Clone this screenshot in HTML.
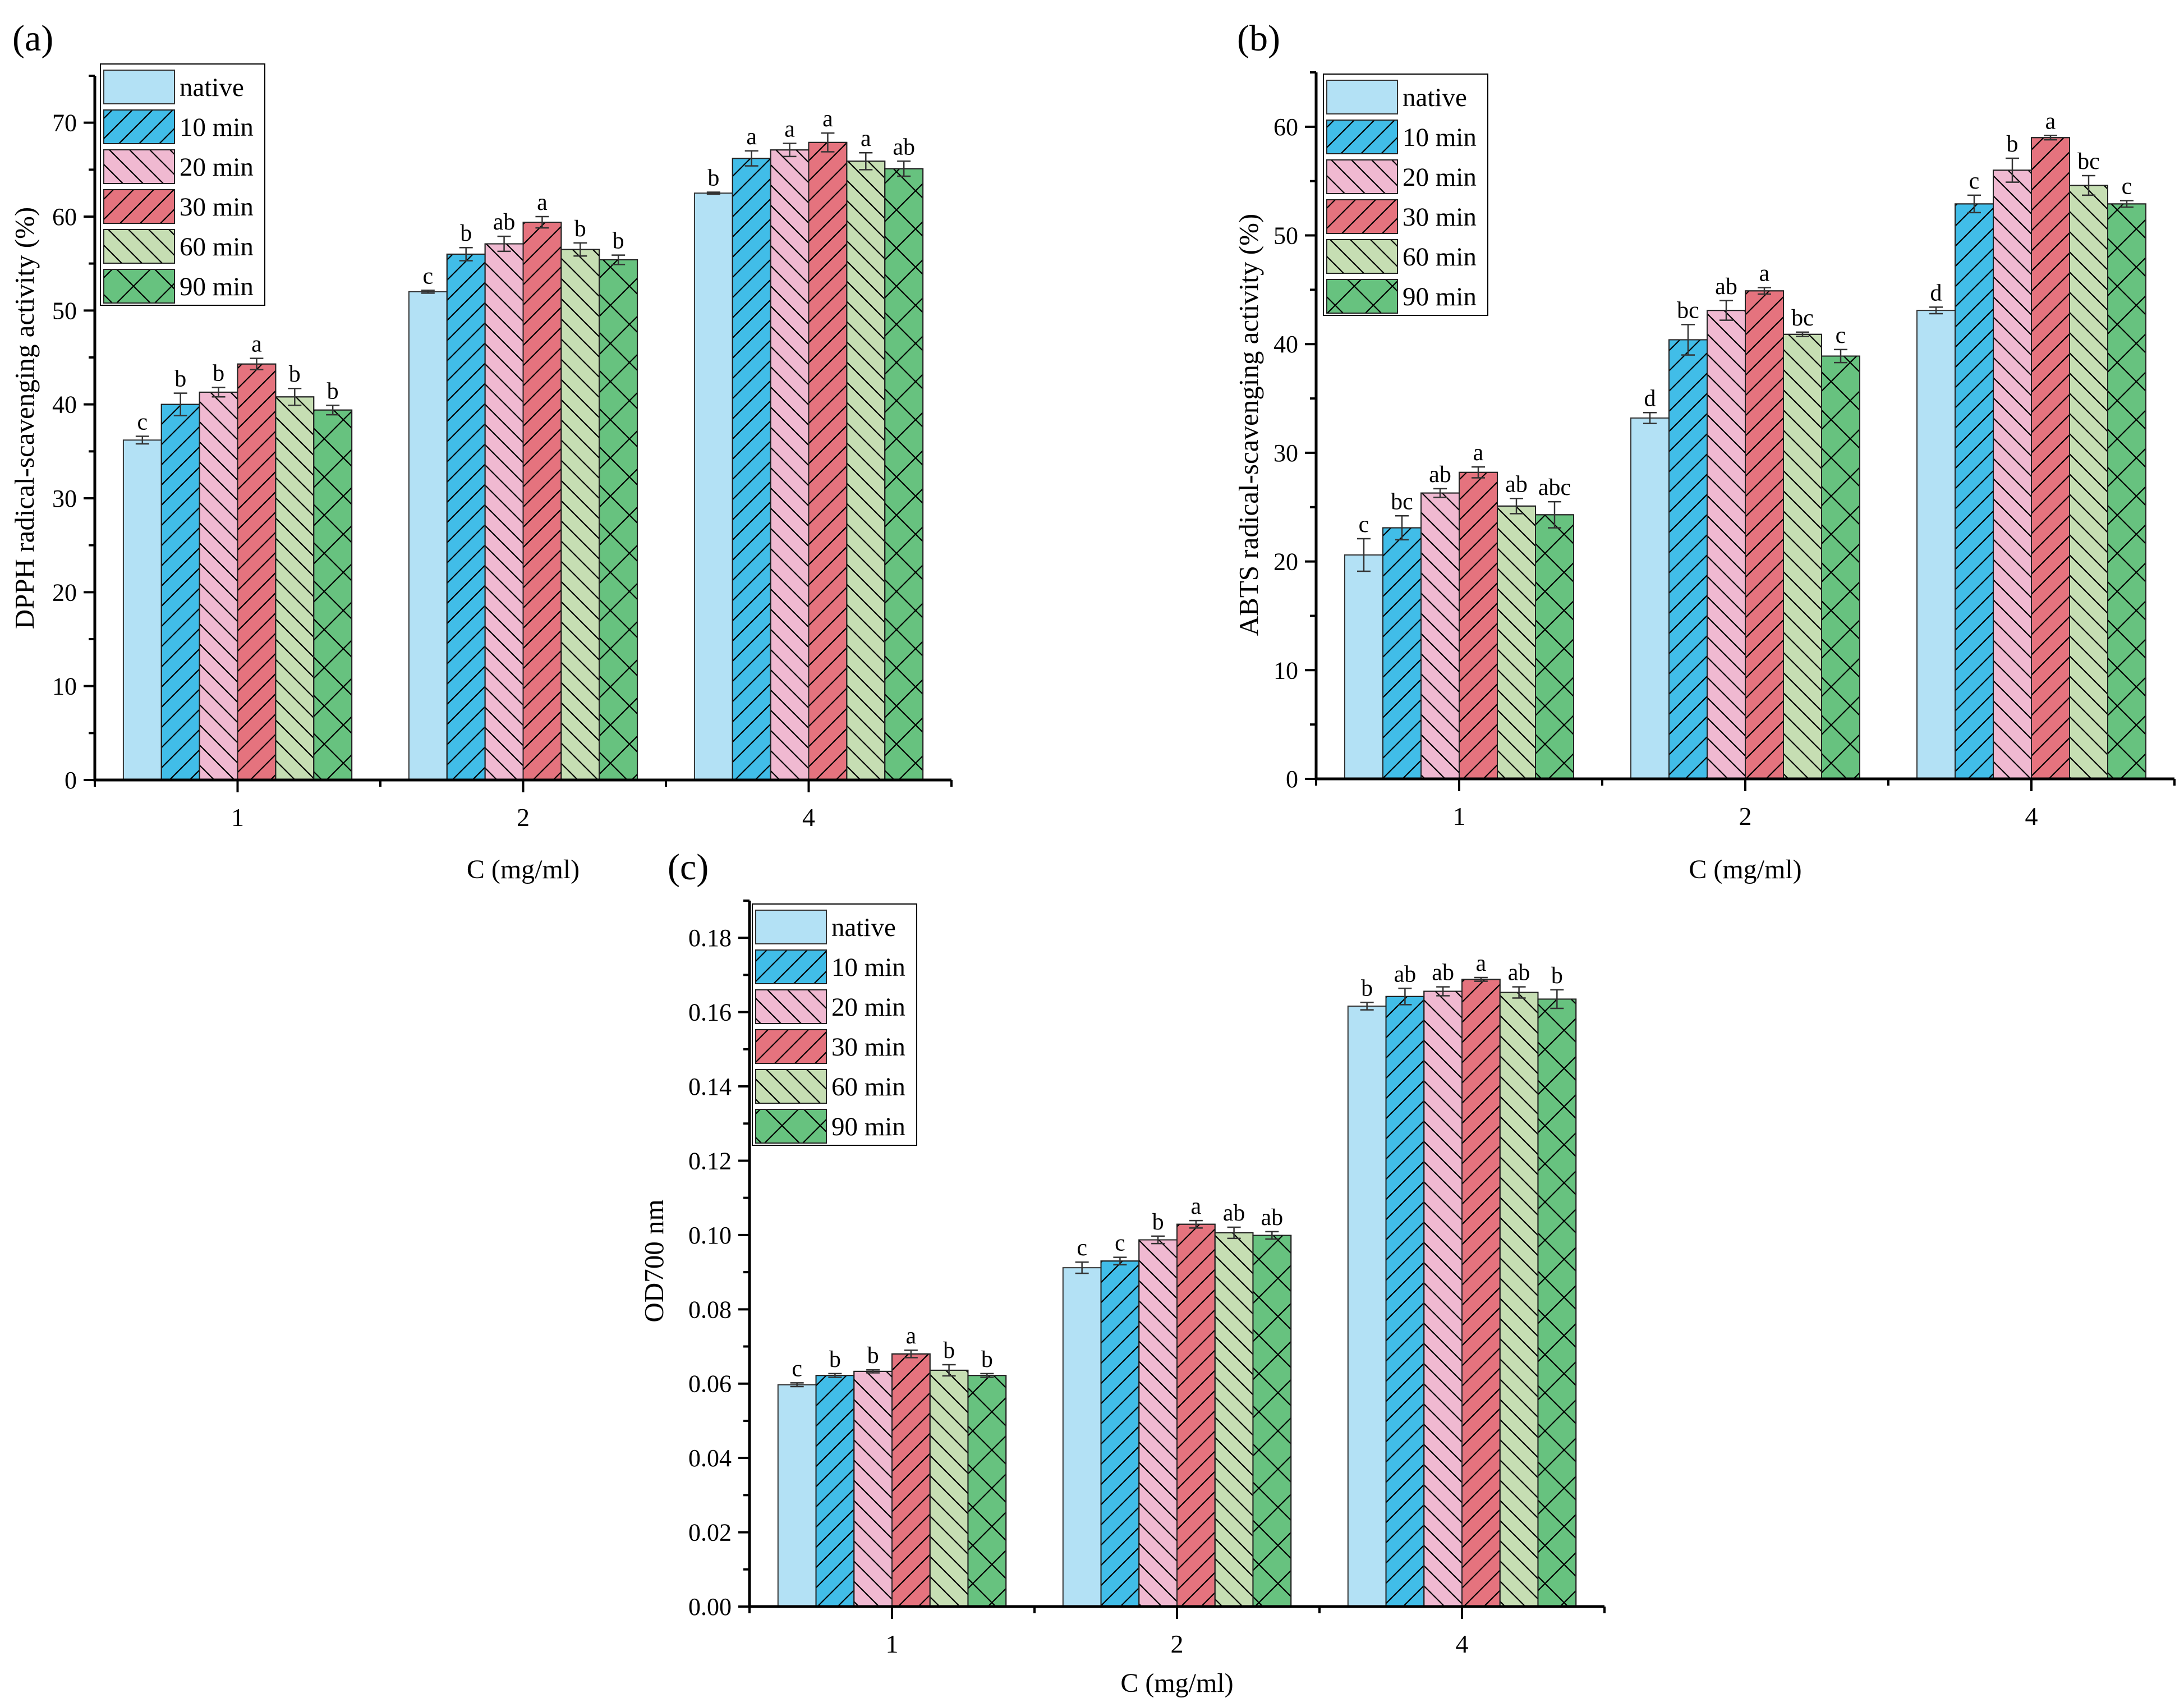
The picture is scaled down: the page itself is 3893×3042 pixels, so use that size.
<!DOCTYPE html>
<html><head><meta charset="utf-8"><style>
html,body{margin:0;padding:0;background:#fff;}
svg{display:block;font-family:"Liberation Serif",serif;}
</style></head><body>
<svg id="fig" width="3893" height="3042" viewBox="0 0 3893 3042" xmlns="http://www.w3.org/2000/svg">
<defs>
<pattern id="hs" patternUnits="userSpaceOnUse" width="36" height="36"><path d="M-9,9 L9,-9 M0,36 L36,0 M27,45 L45,27" stroke="#000" stroke-width="2.2"/></pattern>
<pattern id="hb" patternUnits="userSpaceOnUse" width="36" height="36"><path d="M-9,27 L9,45 M0,0 L36,36 M27,-9 L45,9" stroke="#000" stroke-width="2.2"/></pattern>
<pattern id="hx" patternUnits="userSpaceOnUse" width="68" height="68"><path d="M0,0 L68,68 M0,68 L68,0" stroke="#000" stroke-width="2.2"/></pattern>
</defs>
</svg>
<script>
const seriesNames = ["native","10 min","20 min","30 min","60 min","90 min"];
const categories = ["1","2","4"];
const fills = ["#b3e1f5","#41bde8","#f0b9d1","#e5737e","#c6deb3","#67c27f"];
const hatches = [null,"hs","hb","hs","hb","hx"];

const dpphValues = [[36.2,40.0,41.3,44.3,40.8,39.4],[52.0,56.0,57.1,59.4,56.5,55.4],[62.5,66.2,67.1,67.9,65.9,65.1]];
const dpphErrors = [[0.4,1.2,0.5,0.6,0.9,0.5],[0.15,0.7,0.8,0.6,0.7,0.5],[0.1,0.8,0.7,1.0,0.9,0.8]];
const dpphLetters = [["c","b","b","a","b","b"],["c","b","ab","a","b","b"],["b","a","a","a","a","ab"]];
const dpphTicks = [0,10,20,30,40,50,60,70];

const abtsValues = [[20.6,23.1,26.3,28.2,25.1,24.3],[33.2,40.4,43.1,44.9,40.9,38.9],[43.1,52.9,56.0,59.0,54.6,52.9]];
const abtsErrors = [[1.5,1.1,0.4,0.5,0.7,1.2],[0.5,1.4,0.9,0.3,0.2,0.6],[0.3,0.8,1.1,0.2,0.9,0.3]];
const abtsLetters = [["c","bc","ab","a","ab","abc"],["d","bc","ab","a","bc","c"],["d","c","b","a","bc","c"]];
const abtsTicks = [0,10,20,30,40,50,60];

const odValues = [[0.0597,0.0622,0.0633,0.0680,0.0636,0.0622],[0.0912,0.0930,0.0987,0.1029,0.1006,0.0999],[0.1616,0.1642,0.1656,0.1688,0.1653,0.1635]];
const odErrors = [[0.0005,0.0005,0.0004,0.0010,0.0015,0.0005],[0.0015,0.0010,0.0010,0.0010,0.0015,0.0010],[0.0010,0.0022,0.0012,0.0005,0.0015,0.0025]];
const odLetters = [["c","b","b","a","b","b"],["c","c","b","a","ab","ab"],["b","ab","ab","a","ab","b"]];
const odTickLabels = ["0.00","0.02","0.04","0.06","0.08","0.10","0.12","0.14","0.16","0.18"];

const NS="http://www.w3.org/2000/svg";
const svg=document.getElementById('fig');
function mk(tag,attrs,parent,text){const e=document.createElementNS(NS,tag);for(const k in attrs)e.setAttribute(k,attrs[k]);if(text!==undefined)e.textContent=text;(parent||svg).appendChild(e);return e;}

function panel(o){
  const g=mk('g',{});
  
  
  const y=v=>o.y0-(v/o.max)*(o.y0-o.yTop);
  const gw=(o.x1-o.x0)/3, bw=gw*0.8/6;
  for(let c=0;c<3;c++){
    const gx=o.x0+c*gw+gw*0.1;
    for(let s=0;s<6;s++){
      const v=o.vals[c][s], e=o.errs[c][s];
      const bx=gx+s*bw, by=y(v);
      const r=mk('rect',{x:bx,y:by,width:bw,height:o.y0-by,fill:fills[s],stroke:'#333','stroke-width':2},g);
      
      
      if(hatches[s]){const h=mk('rect',{x:bx,y:by,width:bw,height:o.y0-by,fill:'url(#'+hatches[s]+')',stroke:'#222','stroke-width':2},g);
        
        }
      const cx=bx+bw/2, yt=y(v+e), yb=y(v-e);
      const eb=mk('path',{d:`M${cx},${yt}L${cx},${yb}M${cx-12},${yt}L${cx+12},${yt}M${cx-12},${yb}L${cx+12},${yb}`,stroke:'#333','stroke-width':2.5,fill:'none'},g);
      
      
      const t=mk('text',{x:cx,y:yt-12,'font-size':42,'text-anchor':'middle'},g,o.letters[c][s]);
      
      
    }
  }
  const ax=mk('path',{d:`M${o.x0},${o.yTop}L${o.x0},${o.y0}L${o.x1},${o.y0}`,stroke:'#000','stroke-width':5,fill:'none'},g);
  
  
  let tk='';
  for(let i=0;i<o.ticks.length;i++){
    const v=o.ticks[i], ty=y(v);
    tk+=`M${o.x0-20},${ty}L${o.x0},${ty}`;
    const mv=v+o.step/2; if(mv<=o.max) tk+=`M${o.x0-11},${y(mv)}L${o.x0},${y(mv)}`;
    const tl=mk('text',{x:o.x0-32,y:ty+15,'font-size':44,'text-anchor':'end'},g,o.tickLabels[i]);
    
    
  }
  for(let c=0;c<=3;c++){const xx=o.x0+c*gw; tk+=`M${xx},${o.y0}L${xx},${o.y0+12}`;}
  for(let c=0;c<3;c++){const xx=o.x0+(c+0.5)*gw; tk+=`M${xx},${o.y0}L${xx},${o.y0+22}`;
    const xl=mk('text',{x:xx,y:o.y0+82,'font-size':46,'text-anchor':'middle'},g,categories[c]);
    
    }
  const tp=mk('path',{d:tk,stroke:'#000','stroke-width':4,fill:'none'},g);
  
  
  const xt=mk('text',{x:(o.x0+o.x1)/2,y:o.y0+o.xtOff,'font-size':48,'text-anchor':'middle'},g,'C (mg/ml)');
  
  
  const yt=mk('text',{x:0,y:0,'font-size':49,'text-anchor':'middle',transform:`translate(${o.ytx},${o.yty}) rotate(-90)`},g,o.ytitle);
  
  
  const pl=mk('text',{x:o.plx,y:o.ply,'font-size':66},g,o.label);
  
  
  const lg=mk('g',{},g);
  
  
  mk('rect',{x:o.lx,y:o.ly,width:293,height:430,fill:'#fff',stroke:'#000','stroke-width':2},lg);
  for(let s=0;s<6;s++){
    const sy=o.ly+11+s*71;
    const sw=mk('rect',{x:o.lx+6,y:sy,width:126,height:60,fill:fills[s],stroke:'#333','stroke-width':2},lg);
    
    
    if(hatches[s]) mk('rect',{x:o.lx+6,y:sy,width:126,height:60,fill:'url(#'+hatches[s]+')',stroke:'#222','stroke-width':2},lg);
    const lt=mk('text',{x:o.lx+141,y:sy+46,'font-size':47},lg,seriesNames[s]);
    
    
  }
}
panel({name:'dpph-chart',key:'a',x0:169,x1:1696,y0:1390,yTop:135,max:75,step:10,ticks:dpphTicks,tickLabels:dpphTicks.map(String),
  vals:dpphValues,errs:dpphErrors,letters:dpphLetters,xtOff:175,ytx:60,yty:745,ytitle:'DPPH radical-scavenging activity (%)',
  plx:22,ply:90,label:'(a)',lx:179,ly:114});
panel({name:'abts-chart',key:'b',x0:2346,x1:3876,y0:1388,yTop:129,max:65,step:10,ticks:abtsTicks,tickLabels:abtsTicks.map(String),
  vals:abtsValues,errs:abtsErrors,letters:abtsLetters,xtOff:177,ytx:2242,yty:757,ytitle:'ABTS radical-scavenging activity (%)',
  plx:2205,ply:90,label:'(b)',lx:2359,ly:132});
panel({name:'od700-chart',key:'c',x0:1336,x1:2860,y0:2863,yTop:1605,max:0.19,step:0.02,ticks:odTickLabels.map(Number),tickLabels:odTickLabels,
  vals:odValues,errs:odErrors,letters:odLetters,xtOff:152,ytx:1182,yty:2247,ytitle:'OD700 nm',
  plx:1190,ply:1567,label:'(c)',lx:1341,ly:1611});
</script>
</body></html>
